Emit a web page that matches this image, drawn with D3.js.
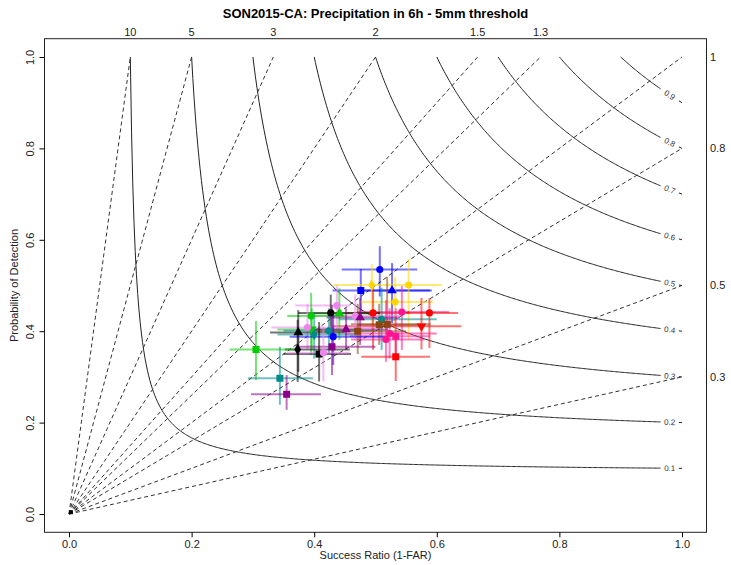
<!DOCTYPE html>
<html lang="en">
<head>
    <meta charset="UTF-8">
    <title>Performance Diagram</title>
    <script src="https://cdnjs.cloudflare.com/ajax/libs/d3/7.8.5/d3.min.js"></script>
    <style>
        body { margin: 0; background: #fff; }
        text { font-family: "Liberation Sans", Arial, sans-serif; }
    </style>
</head>
<body>
    <div id="chart"></div>
    <script>
        // reference lines
        const csiLevels = [0.1, 0.2, 0.3, 0.4, 0.5, 0.6, 0.7, 0.8, 0.9];
        const biasTop = [10, 5, 3, 2, 1.5, 1.3];
        const biasRight = [1, 0.8, 0.5, 0.3];
        const axisTicks = [0, 0.2, 0.4, 0.6, 0.8, 1.0];

        // scores per model/member
        const srVals  = [0.507, 0.476, 0.527, 0.494, 0.554, 0.532, 0.496, 0.543, 0.588, 0.510, 0.506, 0.519, 0.575, 0.523, 0.533, 0.517, 0.533, 0.437, 0.441, 0.427, 0.467, 0.475, 0.395, 0.396, 0.389, 0.374, 0.424, 0.400, 0.452, 0.471, 0.431, 0.373, 0.305, 0.429, 0.408, 0.415, 0.344, 0.355, 0.003];
        const podVals = [0.535, 0.489, 0.489, 0.501, 0.501, 0.464, 0.440, 0.442, 0.440, 0.426, 0.414, 0.415, 0.411, 0.395, 0.389, 0.382, 0.344, 0.456, 0.439, 0.440, 0.433, 0.430, 0.433, 0.404, 0.408, 0.397, 0.401, 0.393, 0.404, 0.400, 0.388, 0.360, 0.360, 0.366, 0.350, 0.353, 0.297, 0.262, 0.004];
        const srLow   = [0.445, 0.430, 0.475, 0.431, 0.543, 0.475, 0.450, 0.470, 0.551, 0.440, 0.471, 0.460, 0.430, 0.450, 0.458, 0.460, 0.477, 0.369, 0.400, 0.374, 0.400, 0.420, 0.356, 0.340, 0.330, 0.328, 0.350, 0.340, 0.390, 0.400, 0.360, 0.352, 0.262, 0.370, 0.350, 0.356, 0.292, 0.297, null];
        const srHigh  = [0.568, 0.592, 0.589, 0.543, 0.608, 0.594, 0.556, 0.620, 0.635, 0.600, 0.575, 0.590, 0.640, 0.600, 0.589, 0.580, 0.589, 0.458, 0.500, 0.507, 0.540, 0.540, 0.450, 0.470, 0.500, 0.450, 0.500, 0.470, 0.520, 0.550, 0.515, 0.458, 0.369, 0.500, 0.460, 0.458, 0.398, 0.411, null];
        const podLow  = [0.476, 0.443, 0.418, 0.403, 0.381, 0.403, 0.359, 0.359, 0.363, 0.359, 0.370, 0.403, 0.360, 0.340, 0.340, 0.333, 0.291, 0.400, 0.381, 0.390, 0.380, 0.370, 0.348, 0.360, 0.360, 0.311, 0.350, 0.340, 0.360, 0.350, 0.326, 0.289, 0.293, 0.304, 0.290, 0.290, 0.239, 0.228, null];
        const podHigh = [0.586, 0.536, 0.549, 0.547, 0.558, 0.519, 0.497, 0.499, 0.472, 0.495, 0.460, 0.519, 0.473, 0.450, 0.450, 0.468, 0.388, 0.500, 0.494, 0.480, 0.480, 0.473, 0.484, 0.450, 0.460, 0.446, 0.450, 0.440, 0.450, 0.460, 0.435, 0.425, 0.422, 0.457, 0.420, 0.410, 0.366, 0.304, null];
        const pointGroup = ["blue", "blue", "blue", "gold", "gold", "gold", "red", "deeppink", "red", "teal", "brown", "brown", "red", "deeppink", "deeppink", "deeppink", "red", "violet", "green", "black", "violet", "purple", "green", "green", "violet", "black", "teal", "teal", "purple", "brown", "blue", "black", "green", "purple", "black", "violet", "teal", "purple", "black"];
        const pointShape = ["circle", "square", "triangle", "diamond", "circle", "circle", "circle", "circle", "circle", "circle", "square", "square", "triangleDown", "circle", "square", "circle", "square", "circle", "triangle", "circle", "circle", "triangle", "circle", "triangleDown", "circle", "triangle", "circle", "diamond", "triangle", "square", "circle", "diamond", "square", "square", "square", "circle", "square", "square", "small"];

        const palette = {
            blue: "#0000ff", gold: "#ffd700", red: "#ff0000", deeppink: "#ff1493",
            teal: "#008b8b", brown: "#8b4513", violet: "#ee82ee", green: "#00cd00",
            black: "#000000", purple: "#8b008b"
        };

        const width = 731, height = 565;
        const x = d3.scaleLinear().domain([-0.04, 1.04]).range([44.5, 706.5]);
        const y = d3.scaleLinear().domain([-0.04, 1.04]).range([532.3, 38.7]);

        const svg = d3.select("#chart").append("svg")
            .attr("width", width)
            .attr("height", height);

        // CSI contours
        const csiPod = (c, s) => 1 / (1 / c - 1 / s + 1);
        const line = d3.line().x(d => x(d[0])).y(d => y(d[1]));
        const gCsi = svg.append("g");
        csiLevels.forEach(c => {
            const pts = d3.range(c, 0.965, 0.002).concat([0.965]).map(s => [s, csiPod(c, s)]);
            gCsi.append("path").attr("d", line(pts))
                .attr("fill", "none").attr("stroke", "#222").attr("stroke-width", 1);
            gCsi.append("path").attr("d", line([[0.995, csiPod(c, 0.995)], [1, csiPod(c, 1)]]))
                .attr("fill", "none").attr("stroke", "#222").attr("stroke-width", 1);
            const lx = x(0.98), ly = y(csiPod(c, 0.98));
            const ang = Math.atan2(y(csiPod(c, 0.995)) - y(csiPod(c, 0.965)), x(0.995) - x(0.965)) * 180 / Math.PI;
            gCsi.append("text")
                .attr("transform", `translate(${lx},${ly}) rotate(${ang})`)
                .attr("text-anchor", "middle").attr("dy", "0.35em")
                .attr("font-size", 8).attr("fill", "#333")
                .text(c);
        });

        // frequency bias lines
        const gBias = svg.append("g");
        biasTop.forEach(b => {
            gBias.append("line")
                .attr("x1", x(0)).attr("y1", y(0)).attr("x2", x(1 / b)).attr("y2", y(1))
                .attr("stroke", "#333").attr("stroke-dasharray", "4,3");
            gBias.append("text").attr("x", x(1 / b)).attr("y", 36)
                .attr("text-anchor", "middle").attr("font-size", 11).attr("fill", "#222").text(b);
        });
        biasRight.forEach(b => {
            gBias.append("line")
                .attr("x1", x(0)).attr("y1", y(0)).attr("x2", x(1)).attr("y2", y(b))
                .attr("stroke", "#333").attr("stroke-dasharray", "4,3");
            gBias.append("text").attr("x", 710).attr("y", y(b)).attr("dy", "0.35em")
                .attr("font-size", 11).attr("fill", "#222").text(b);
        });

        // error bars
        const gErr = svg.append("g").attr("stroke-width", 2).attr("stroke-opacity", 0.55);
        srVals.forEach((s, i) => {
            if (srLow[i] == null) return;
            const col = palette[pointGroup[i]];
            gErr.append("line").attr("x1", x(srLow[i])).attr("x2", x(srHigh[i]))
                .attr("y1", y(podVals[i])).attr("y2", y(podVals[i])).attr("stroke", col);
            gErr.append("line").attr("x1", x(s)).attr("x2", x(s))
                .attr("y1", y(podLow[i])).attr("y2", y(podHigh[i])).attr("stroke", col);
        });

        // markers
        const symbols = {
            circle: d3.symbol(d3.symbolCircle, 40),
            square: d3.symbol(d3.symbolSquare, 49),
            triangle: d3.symbol(d3.symbolTriangle, 40),
            triangleDown: d3.symbol(d3.symbolTriangle, 40),
            diamond: d3.symbol(d3.symbolDiamond, 40),
            small: d3.symbol(d3.symbolSquare, 16)
        };
        svg.append("g").selectAll("path")
            .data(srVals.map((s, i) => i))
            .enter().append("path")
            .attr("d", i => symbols[pointShape[i]]())
            .attr("transform", i => `translate(${x(srVals[i])},${y(podVals[i])})` + (pointShape[i] === "triangleDown" ? " rotate(180)" : ""))
            .attr("fill", i => palette[pointGroup[i]]);

        // frame and axes
        svg.append("rect").attr("x", 44.5).attr("y", 38.7).attr("width", 662).attr("height", 493.6)
            .attr("fill", "none").attr("stroke", "#222").attr("stroke-width", 1);

        svg.append("g").attr("transform", "translate(0,532.3)")
            .call(d3.axisBottom(x).tickValues(axisTicks).tickFormat(d3.format(".1f")).tickSize(5).tickPadding(3))
            .call(g => g.select(".domain").remove())
            .call(g => g.selectAll("text").attr("font-size", 11).attr("fill", "#222").attr("font-family", null));

        svg.append("g").attr("transform", "translate(44.5,0)")
            .call(d3.axisLeft(y).tickValues(axisTicks).tickFormat(d3.format(".1f")).tickSize(5).tickPadding(3))
            .call(g => g.select(".domain").remove())
            .call(g => g.selectAll("text").attr("font-size", 11).attr("fill", "#222").attr("font-family", null)
                .attr("x", 0).attr("y", 0).attr("dy", "0.35em").attr("text-anchor", "middle")
                .attr("transform", "translate(-14,0) rotate(-90)"));

        svg.append("text").attr("x", 375.5).attr("y", 18)
            .attr("text-anchor", "middle").attr("font-size", 13).attr("font-weight", "bold")
            .text("SON2015-CA: Precipitation in 6h - 5mm threshold");

        svg.append("text").attr("x", 375.5).attr("y", 559)
            .attr("text-anchor", "middle").attr("font-size", 11).attr("fill", "#222")
            .text("Success Ratio (1-FAR)");

        svg.append("text").attr("transform", "translate(18,285.5) rotate(-90)")
            .attr("text-anchor", "middle").attr("font-size", 11).attr("fill", "#222")
            .text("Probability of Detection");
    </script>
</body>
</html>
